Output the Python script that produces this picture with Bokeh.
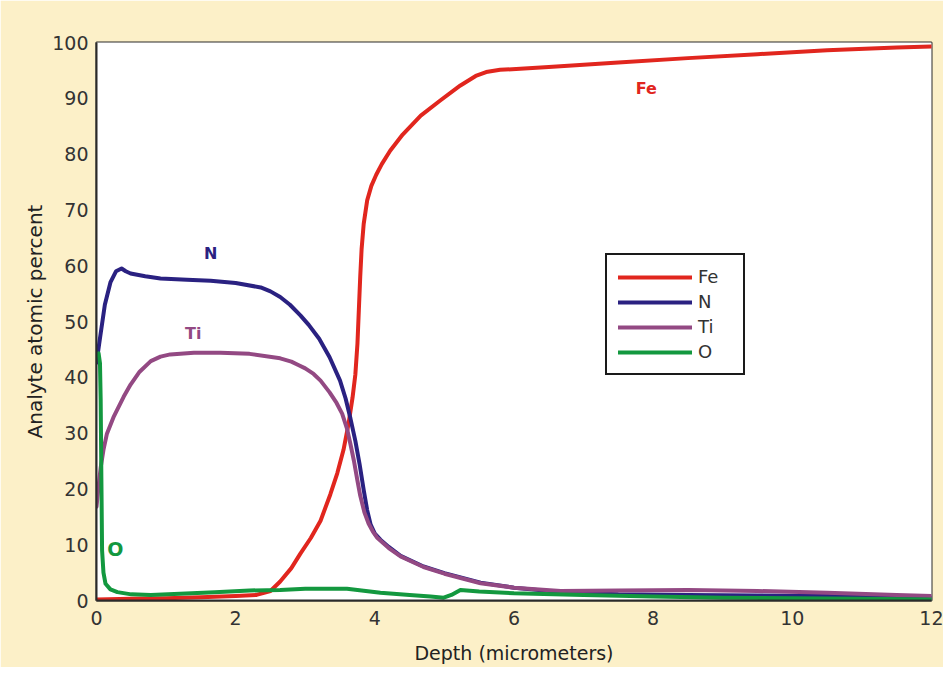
from bokeh.plotting import figure
from bokeh.models import FixedTicker, Legend, LegendItem, BoxAnnotation, ColumnDataSource, Range1d
from bokeh.core.properties import value
from bokeh.embed import file_html
from bokeh.resources import INLINE

# ---- data ----
fe_x = [0, 0.5, 1.0, 1.5, 2.0, 2.3, 2.5, 2.64, 2.8, 2.93, 3.08, 3.22, 3.36, 3.46, 3.55, 3.62, 3.68, 3.72,
        3.75, 3.77, 3.79, 3.81, 3.84, 3.89, 3.95, 4.02, 4.1, 4.22, 4.4, 4.66, 4.94, 5.23, 5.45, 5.6, 5.8,
        6.5, 7.5, 8.5, 9.5, 10.5, 11.5, 12]
fe_y = [0.2, 0.3, 0.4, 0.6, 0.8, 1.0, 1.7, 3.4, 5.8, 8.4, 11.2, 14.3, 19.0, 22.8, 27, 31.5, 36.4, 40.5,
        46, 52, 58, 63, 67.5, 71.7, 74.3, 76.3, 78.2, 80.6, 83.5, 86.9, 89.6, 92.3, 94.0, 94.7, 95.1,
        95.6, 96.4, 97.2, 97.9, 98.6, 99.1, 99.3]

n_x = [0, 0.05, 0.12, 0.2, 0.28, 0.36, 0.42, 0.49, 0.7, 0.92, 1.3, 1.64, 2.0, 2.36, 2.5, 2.64, 2.78,
       2.93, 3.05, 3.2, 3.35, 3.5, 3.58, 3.65, 3.72, 3.78, 3.84, 3.89, 3.94, 4.0, 4.08, 4.2, 4.37, 4.7,
       5.0, 5.52, 6.0, 6.67, 7.5, 8.5, 9.5, 10.5, 11.5, 12]
n_y = [42.6, 47, 53, 57, 59, 59.5, 59, 58.6, 58.1, 57.7, 57.5, 57.3, 56.9, 56.1, 55.4, 54.4, 53.0,
       51.1, 49.4, 46.9, 43.6, 39.4, 36.2, 32.6, 28.6, 24.5, 19.8, 16.2, 13.6, 12.0, 10.9, 9.6, 8.0, 6.1,
       4.9, 3.2, 2.3, 1.5, 1.1, 1.0, 0.9, 0.8, 0.6, 0.5]

ti_x = [0, 0.03, 0.06, 0.1, 0.15, 0.25, 0.39, 0.49, 0.62, 0.78, 0.92, 1.06, 1.4, 1.78, 2.2, 2.64, 2.8,
        2.9, 3.0, 3.12, 3.22, 3.35, 3.45, 3.53, 3.6, 3.65, 3.7, 3.75, 3.79, 3.85, 3.91, 3.97, 4.03, 4.2,
        4.37, 4.7, 5.0, 5.52, 6.0, 6.67, 7.5, 8.5, 9.5, 10.5, 11.5, 12]
ti_y = [16.8, 20.5, 23.8, 27, 29.9, 33, 36.5, 38.7, 41.0, 42.9, 43.7, 44.1, 44.4, 44.4, 44.2, 43.4, 42.8,
        42.2, 41.6, 40.6, 39.4, 37.3, 35.4, 33.5, 30.8, 28.0, 25.0, 21.5, 18.8, 15.8, 13.8, 12.4, 11.3,
        9.4, 7.9, 6.0, 4.8, 3.1, 2.3, 1.7, 1.8, 1.9, 1.7, 1.4, 1.0, 0.8]

o_x = [0, 0.03, 0.05, 0.06, 0.07, 0.08, 0.1, 0.13, 0.2, 0.3, 0.5, 0.78, 1.2, 1.7, 2.2, 2.64, 3.0, 3.6,
       4.08, 4.5, 4.8, 4.99, 5.1, 5.23, 5.5, 6.0, 7.0, 8.0, 9.0, 10.0, 11.0, 12.0]
o_y = [44.0, 44.3, 42.5, 36, 22, 9, 5, 3, 2.0, 1.5, 1.1, 1.0, 1.2, 1.5, 1.8, 1.9, 2.1, 2.1,
       1.4, 1.0, 0.7, 0.5, 1.0, 1.9, 1.6, 1.3, 1.0, 0.7, 0.5, 0.4, 0.3, 0.2]

series_names = ["Fe", "N", "Ti", "O"]
series_colors = ["#e1261e", "#2a2181", "#934983", "#13983f"]

label_names = ["Fe", "N", "Ti", "O"]
label_x = [7.9, 1.64, 1.39, 0.27]
label_y = [91.8, 62.2, 47.8, 9.3]
label_sizes = ["16px", "16px", "16px", "19px"]

x_ticks = [0, 2, 4, 6, 8, 10, 12]
y_ticks = [0, 10, 20, 30, 40, 50, 60, 70, 80, 90, 100]

FONT = "DejaVu Sans"
W, H = 943, 667

p = figure(width=W, height=H, output_backend="svg", toolbar_location=None,
           x_range=Range1d(0, 12), y_range=Range1d(0, 100),
           min_border_left=96, min_border_right=W - 931, min_border_top=42, min_border_bottom=H - 600)

p.background_fill_color = "white"
p.border_fill_color = "#fcf0c8"
bg = BoxAnnotation(left=15, right=W + 40, top=5, bottom=H + 40,
                   left_units="canvas", right_units="canvas", top_units="canvas", bottom_units="canvas",
                   fill_color="white", fill_alpha=1.0, line_color=None, level="underlay")
p.add_layout(bg)

p.outline_line_color = "#2a2a2a"
p.outline_line_alpha = 1.0
p.outline_line_width = 2
p.grid.visible = False

for ax in (p.xaxis[0], p.yaxis[0]):
    ax.axis_line_color = "#2a2a2a"
    ax.axis_line_width = 2
    ax.major_tick_line_color = None
    ax.minor_tick_line_color = None
    ax.major_tick_out = 0
    ax.major_tick_in = 0
    ax.minor_tick_out = 0
    ax.major_label_text_font = FONT
    ax.major_label_text_font_size = "19px"
    ax.major_label_text_color = "#333333"
    ax.axis_label_text_font = FONT
    ax.axis_label_text_font_style = "normal"
    ax.axis_label_text_color = "#222222"

p.xaxis.ticker = FixedTicker(ticks=x_ticks)
p.yaxis.ticker = FixedTicker(ticks=y_ticks)
p.xaxis.major_label_standoff = 10
p.yaxis.major_label_standoff = 8
p.xaxis.axis_label = "Depth (micrometers)"
p.yaxis.axis_label = "Analyte atomic percent"
p.xaxis.axis_label_text_font_size = "19px"
p.yaxis.axis_label_text_font_size = "20px"
p.xaxis.axis_label_standoff = 14
p.yaxis.axis_label_standoff = 2

data = [(fe_x, fe_y), (n_x, n_y), (ti_x, ti_y), (o_x, o_y)]
renderers = []
for (xs, ys), name, col in zip(data, series_names, series_colors):
    r = p.line(xs, ys, line_color=col, line_width=4, line_join="round", line_cap="round")
    renderers.append(r)

lab_src = ColumnDataSource(dict(x=label_x, y=label_y, t=label_names, c=series_colors, s=label_sizes))
p.text(x="x", y="y", text="t", text_color="c", source=lab_src,
       text_font=value(FONT), text_font_size="s", text_font_style="bold",
       text_align="center", text_baseline="middle")

legend = Legend(items=[LegendItem(label=n, renderers=[r]) for n, r in zip(series_names, renderers)],
                location=(509, 225))
legend.label_text_font = FONT
legend.label_text_font_size = "18px"
legend.label_text_color = "#333333"
legend.glyph_width = 74
legend.glyph_height = 20
legend.label_height = 20
legend.label_width = 34
legend.label_standoff = 6
legend.spacing = 4
legend.padding = 11
legend.margin = 0
legend.border_line_color = "#1a1a1a"
legend.border_line_alpha = 1.0
legend.border_line_width = 2
legend.background_fill_color = "white"
legend.background_fill_alpha = 1.0
p.add_layout(legend)

open("out.html", "w").write(file_html(p, INLINE))
